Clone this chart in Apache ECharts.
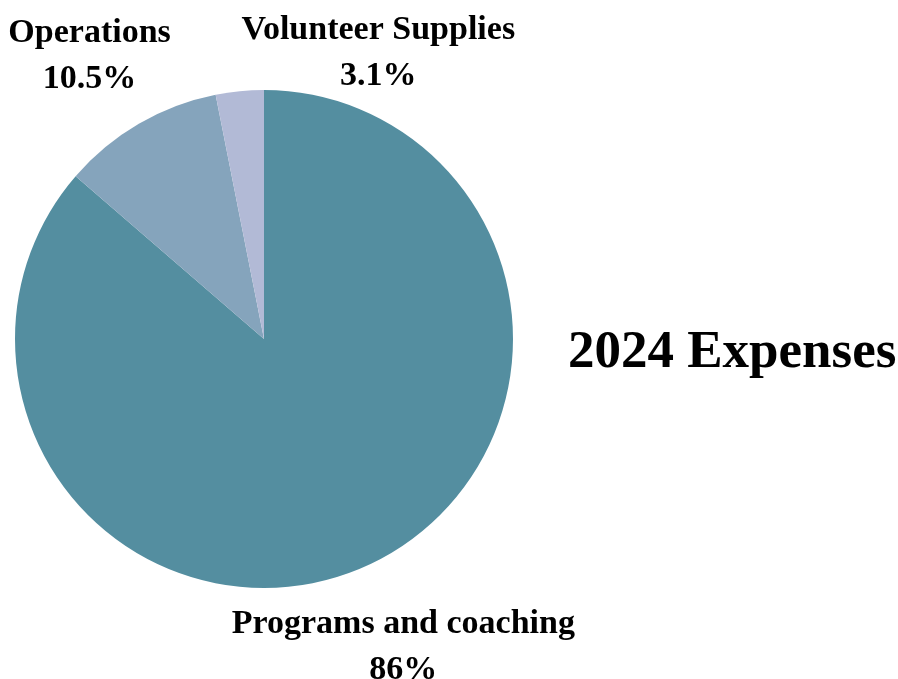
<!DOCTYPE html>
<html>
<head>
<meta charset="utf-8">
<script src="https://cdn.jsdelivr.net/npm/echarts@6/dist/echarts.min.js"></script>
<style>
html,body{margin:0;padding:0;background:#fff;}
#chart{width:898px;height:679px;}
</style>
</head>
<body>
<div id="chart"></div>
<script>
const categories = ['Programs and coaching', 'Operations', 'Volunteer Supplies'];
const values = [86, 10.5, 3.1];
const colors = ['#548ea0', '#85a4bc', '#b2bad6'];
const titleText = '2024 Expenses';

const center = [264, 339];
const radius = 249;
const labelRadius = 335;
const labelShift = [[0, 4], [-6, 7], [147, 48]];

const total = values.reduce((a, b) => a + b, 0);
const midAngles = [];
let acc = 0;
values.forEach(v => {
  const mid = acc + v / 2;
  midAngles.push(Math.PI / 2 - mid / total * 2 * Math.PI);
  acc += v;
});

const chart = echarts.init(document.getElementById('chart'), null, {renderer: 'canvas'});
chart.setOption({
  animation: false,
  backgroundColor: '#ffffff',
  title: {
    text: titleText,
    left: 563,
    top: 322,
    textStyle: {fontFamily: 'Liberation Serif', fontWeight: 'bold', fontSize: 53, color: '#000'}
  },
  series: [{
    type: 'pie',
    center: center,
    radius: radius,
    startAngle: 90,
    clockwise: true,
    data: categories.map((c, i) => ({name: c, value: values[i], itemStyle: {color: colors[i]}})),
    itemStyle: {borderWidth: 0},
    emphasis: {disabled: true},
    label: {
      show: true,
      position: 'outside',
      formatter: '{b}\n{c}%',
      fontFamily: 'Liberation Serif',
      fontWeight: 'bold',
      fontSize: 34,
      lineHeight: 46,
      color: '#000',
      align: 'center',
      width: 420,
      overflow: 'none'
    },
    labelLine: {show: false},
    labelLayout: function (p) {
      const i = p.dataIndex;
      const a = midAngles[i];
      return {
        x: center[0] + labelRadius * Math.cos(a) + labelShift[i][0],
        y: center[1] - labelRadius * Math.sin(a) + labelShift[i][1],
        align: 'center',
        verticalAlign: 'middle'
      };
    }
  }]
});
</script>
</body>
</html>
